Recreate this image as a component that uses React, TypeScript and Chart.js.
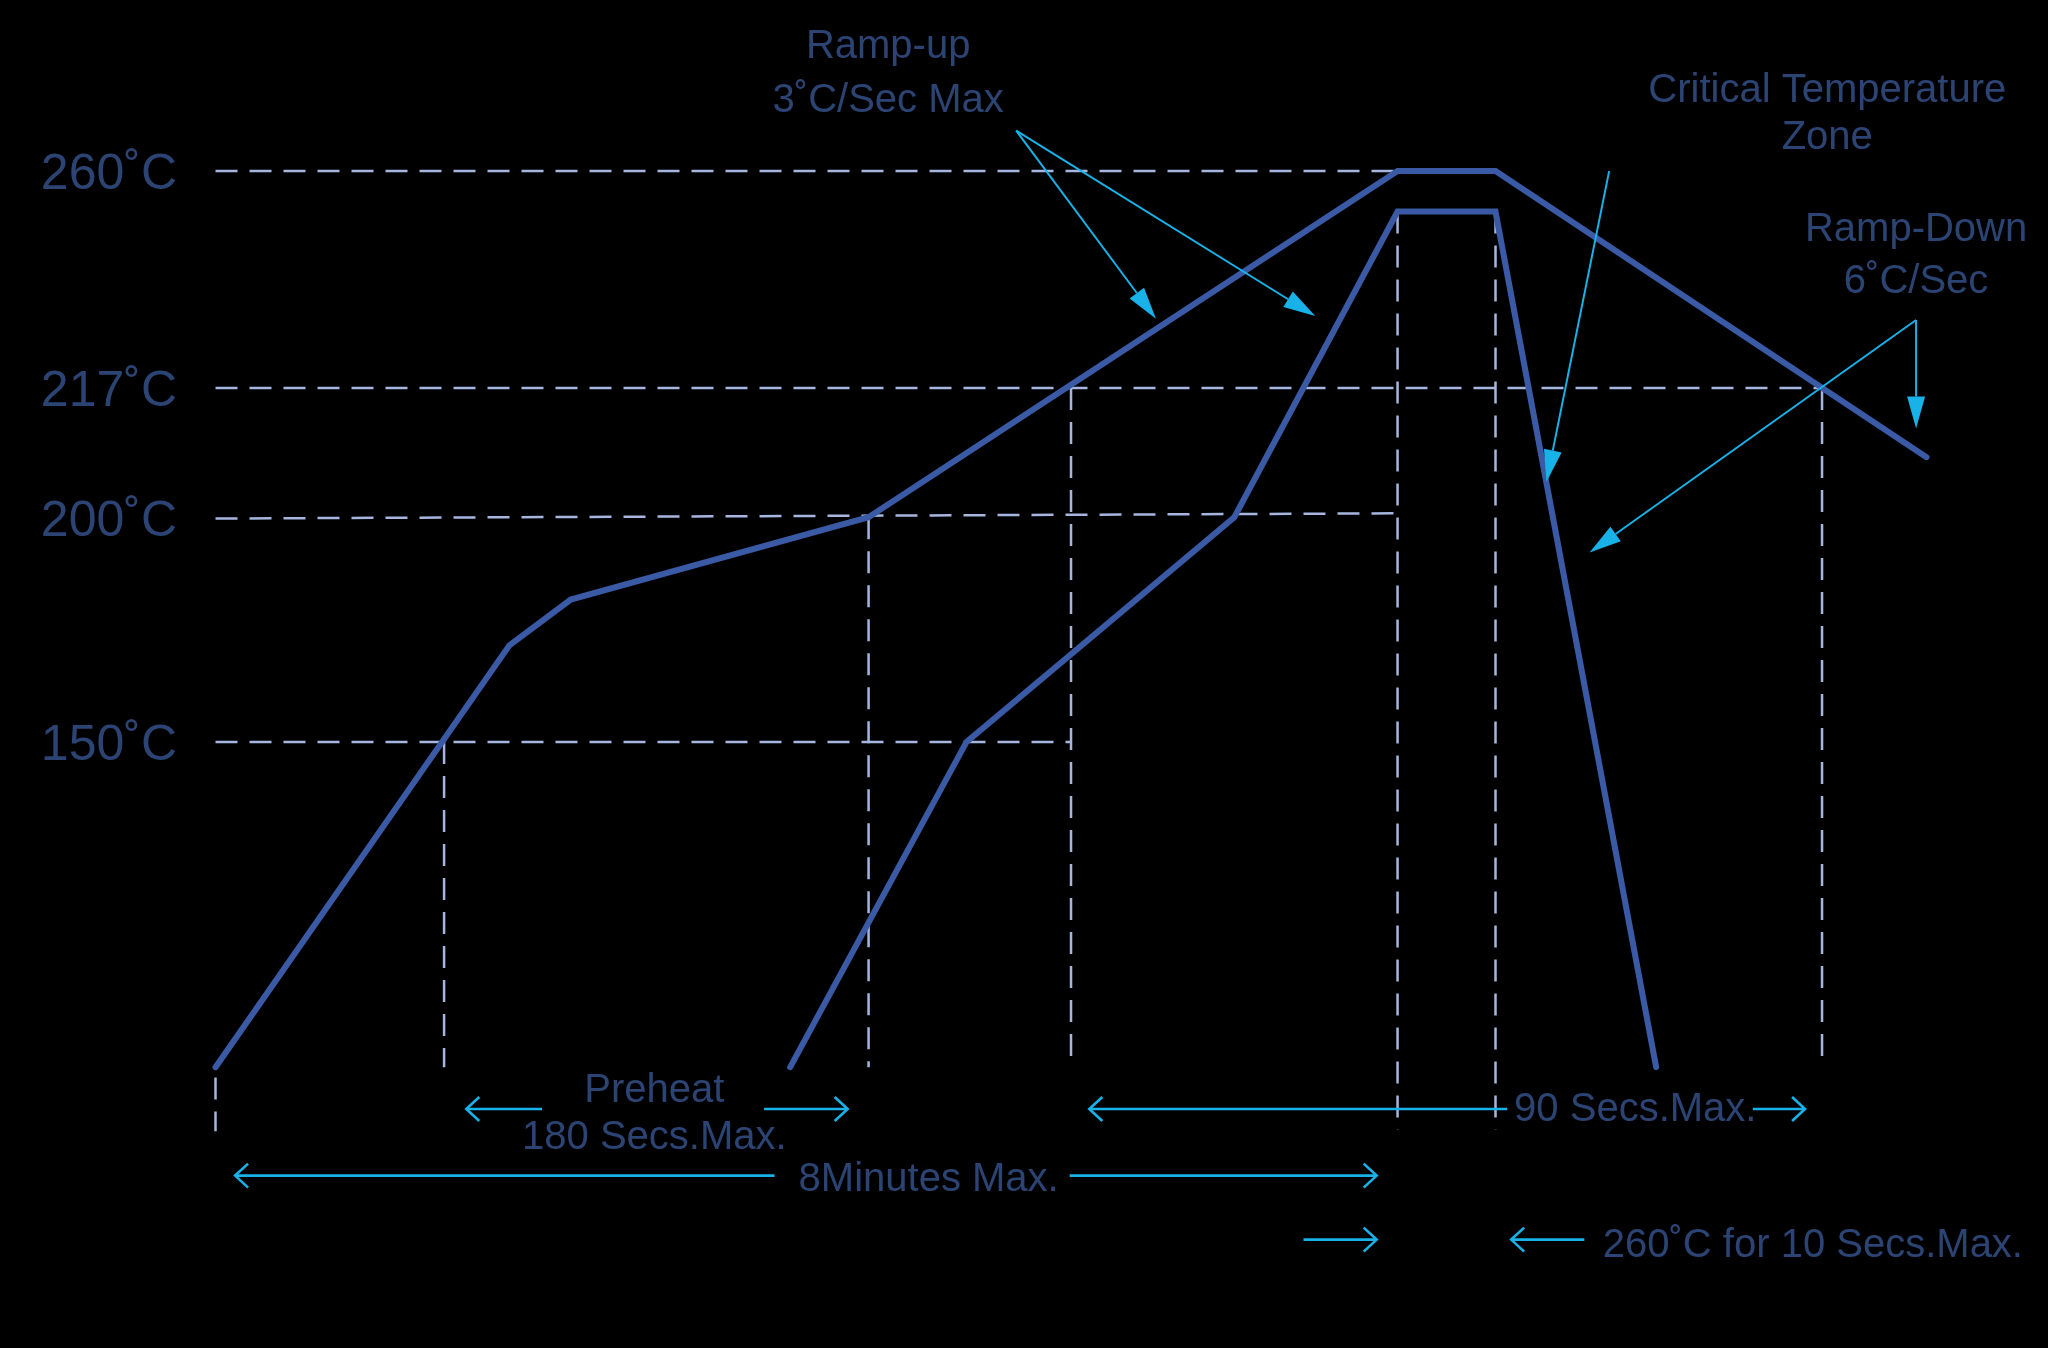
import React, { useEffect, useRef } from 'react';
import { Chart, registerables } from 'chart.js';

Chart.register(...registerables);

// Diagram units: schematic time (x) and schematic level (y, downward).
const tempLevels = [131, 297, 397, 568];
const tempLabels = ['260˚C', '217˚C', '200˚C', '150˚C'];

// Max profile (outer curve)
const maxProfileX = [165, 390, 437, 665, 1070, 1145, 1475];
const maxProfileY = [817, 494, 459, 396, 131, 131, 350];

// Min profile (inner curve)
const minProfileX = [605, 740, 945, 1070, 1145, 1268];
const minProfileY = [817, 568, 396, 162, 162, 817];

// Dashed guide segments [x1, y1, x2, y2]
const guideSegments: number[][] = [
  [165, 131, 1070, 131],
  [165, 297, 1395, 297],
  [165, 397, 1070, 393],
  [165, 568, 820, 568],
  [165, 825, 165, 866],
  [340, 568, 340, 817],
  [665, 396, 665, 817],
  [820, 297, 820, 817],
  [1070, 162, 1070, 865],
  [1145, 162, 1145, 865],
  [1395, 297, 1395, 815],
];

// Callout arrows with filled heads [fromX, fromY, tipX, tipY]
const calloutArrows: number[][] = [
  [778, 100, 885, 244],
  [778, 100, 1007, 242],
  [1232, 131, 1184, 369],
  [1467, 245, 1467, 328],
  [1467, 245, 1217, 423],
];

// Dimension arrows with open heads [fromX, fromY, tipX, tipY]
const dimensionArrows: number[][] = [
  [415, 849, 357, 849],
  [585, 849, 649, 849],
  [1154, 849, 834, 849],
  [1342, 849, 1382, 849],
  [593, 900, 180, 900],
  [819, 900, 1054, 900],
  [998, 949, 1054, 949],
  [1213, 949, 1157, 949],
];

// Text labels
const labelTexts = [
  'Ramp-up',
  '3˚C/Sec Max',
  'Critical Temperature',
  'Zone',
  'Ramp-Down',
  '6˚C/Sec',
  'Preheat',
  '180 Secs.Max.',
  '8Minutes Max.',
  '90 Secs.Max.',
  '260˚C for 10 Secs.Max.',
];
const labelX = [680, 680, 1399, 1399, 1467, 1467, 501, 501, 711, 1252, 1388];
const labelY = [36, 77, 70, 106, 176, 216, 835, 871, 903, 850, 954];

const PROFILE_COLOR = '#3a5aa6';
const GUIDE_COLOR = '#a6b6de';
const ARROW_COLOR = '#18b2e8';
const TEXT_COLOR = '#2c4474';
const FONT_FAMILY = '"Liberation Sans", Arial, sans-serif';

const overlayPlugin = {
  id: 'overlay',
  beforeDraw(chart: any) {
    const ctx = chart.ctx;
    ctx.save();
    ctx.fillStyle = '#000000';
    ctx.fillRect(0, 0, chart.width, chart.height);
    ctx.restore();
  },
  afterDatasetsDraw(chart: any) {
    const ctx: CanvasRenderingContext2D = chart.ctx;
    const xs = chart.scales.x;
    const ys = chart.scales.y;
    const px = (v: number) => xs.getPixelForValue(v);
    const py = (v: number) => ys.getPixelForValue(v);

    ctx.save();
    ctx.strokeStyle = ARROW_COLOR;
    ctx.fillStyle = ARROW_COLOR;
    ctx.lineCap = 'butt';

    // callouts
    ctx.lineWidth = 2;
    calloutArrows.forEach(([x1, y1, x2, y2]) => {
      const sx = px(x1), sy = py(y1), tx = px(x2), ty = py(y2);
      const dx = tx - sx, dy = ty - sy;
      const len = Math.hypot(dx, dy);
      const ux = dx / len, uy = dy / len;
      const L = 32, W = 9;
      const bx = tx - ux * L, by = ty - uy * L;
      ctx.beginPath();
      ctx.moveTo(sx, sy);
      ctx.lineTo(bx, by);
      ctx.stroke();
      ctx.beginPath();
      ctx.moveTo(tx, ty);
      ctx.lineTo(bx - uy * W, by + ux * W);
      ctx.lineTo(bx + uy * W, by - ux * W);
      ctx.closePath();
      ctx.fill();
    });

    // dimension arrows
    ctx.lineWidth = 2.6;
    ctx.lineJoin = 'miter';
    dimensionArrows.forEach(([x1, y1, x2, y2]) => {
      const sx = px(x1), sy = py(y1), tx = px(x2), ty = py(y2);
      const dx = tx - sx, dy = ty - sy;
      const len = Math.hypot(dx, dy);
      const ux = dx / len, uy = dy / len;
      const L = 13, W = 12;
      ctx.beginPath();
      ctx.moveTo(sx, sy);
      ctx.lineTo(tx, ty);
      ctx.stroke();
      const bx = tx - ux * L, by = ty - uy * L;
      ctx.beginPath();
      ctx.moveTo(bx - uy * W, by + ux * W);
      ctx.lineTo(tx, ty);
      ctx.lineTo(bx + uy * W, by - ux * W);
      ctx.stroke();
    });

    // texts
    ctx.fillStyle = TEXT_COLOR;
    ctx.font = `40px ${FONT_FAMILY}`;
    ctx.textAlign = 'center';
    ctx.textBaseline = 'middle';
    labelTexts.forEach((t, i) => {
      ctx.fillText(t, px(labelX[i]), py(labelY[i]));
    });
    ctx.restore();
  },
};

function toPoints(xs: number[], ys: number[]) {
  return xs.map((x, i) => ({ x, y: ys[i] }));
}

export default function App() {
  const canvasRef = useRef<HTMLCanvasElement | null>(null);

  useEffect(() => {
    document.body.style.margin = '0';
    document.body.style.background = '#000';
    const canvas = canvasRef.current;
    if (!canvas) return;

    const guideDatasets = guideSegments.map(([x1, y1, x2, y2]) => ({
      data: [
        { x: x1, y: y1 },
        { x: x2, y: y2 },
      ],
      showLine: true,
      borderColor: GUIDE_COLOR,
      borderWidth: 2.5,
      borderDash: [22, 12],
      pointRadius: 0,
      order: 2,
      clip: false as any,
    }));

    const chart = new Chart(canvas, {
      type: 'scatter',
      data: {
        datasets: [
          {
            label: 'Max profile',
            data: toPoints(maxProfileX, maxProfileY),
            showLine: true,
            borderColor: PROFILE_COLOR,
            borderWidth: 6,
            pointRadius: 0,
            borderJoinStyle: 'miter',
            borderCapStyle: 'round',
            order: 0,
            clip: false as any,
          },
          {
            label: 'Min profile',
            data: toPoints(minProfileX, minProfileY),
            showLine: true,
            borderColor: PROFILE_COLOR,
            borderWidth: 6,
            pointRadius: 0,
            borderJoinStyle: 'miter',
            borderCapStyle: 'round',
            order: 1,
            clip: false as any,
          },
          ...guideDatasets,
        ] as any,
      },
      options: {
        responsive: false,
        animation: false,
        devicePixelRatio: 1,
        layout: { padding: 0 },
        plugins: {
          legend: { display: false },
          title: { display: false },
          tooltip: { enabled: false },
        },
        events: [],
        scales: {
          x: {
            type: 'linear',
            min: 153.125,
            max: 1568,
            display: false,
          },
          y: {
            type: 'linear',
            min: 0,
            max: 1032,
            reverse: true,
            position: 'left',
            grid: { display: false, drawTicks: false },
            border: { display: false },
            afterBuildTicks: (s: any) => {
              s.ticks = tempLevels.map((v) => ({ value: v }));
            },
            afterFit: (s: any) => {
              s.width = 200;
              s.paddingTop = 0;
              s.paddingBottom = 0;
            },
            ticks: {
              autoSkip: false,
              padding: 23,
              labelOffset: 4,
              color: TEXT_COLOR,
              font: { family: FONT_FAMILY, size: 50 },
              callback: (v: any) => {
                const i = tempLevels.indexOf(Number(v));
                return i >= 0 ? tempLabels[i] : '';
              },
            },
          },
        },
      } as any,
      plugins: [overlayPlugin],
    });

    return () => {
      chart.destroy();
    };
  }, []);

  return (
    <div style={{ width: 2048, height: 1348, background: '#000' }}>
      <canvas ref={canvasRef} width={2048} height={1348} style={{ display: 'block' }} />
    </div>
  );
}
